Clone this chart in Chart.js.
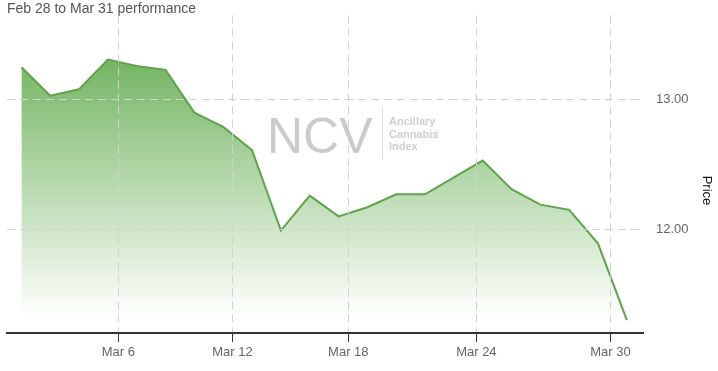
<!DOCTYPE html>
<html>
<head>
<meta charset="utf-8">
<script src="https://cdn.jsdelivr.net/npm/chart.js@4/dist/chart.umd.min.js"></script>
<style>
  html, body { margin: 0; padding: 0; background: #fff; }
  #wrap { width: 718px; height: 371px; }
</style>
</head>
<body>
<div id="wrap"><canvas id="graficaNCV"></canvas></div>
<script>
// daily closes, one per trading day, left to right
const precios = [13.25, 13.03, 13.08, 13.31, 13.26, 13.23, 12.90, 12.79, 12.61, 11.99, 12.26,
                 12.10, 12.17, 12.27, 12.27, 12.40, 12.53, 12.31, 12.19, 12.15, 11.89, 11.30];
// where the date ticks fall, in trading-day index units
const posicionesFechas = [3.36, 7.32, 11.34, 15.78, 20.43];
const etiquetasFechas = ['Mar 6', 'Mar 12', 'Mar 18', 'Mar 24', 'Mar 30'];
const ticksPrecio = [12, 13];

const titulo = 'Feb 28 to Mar 31 performance';

Chart.defaults.font.family = 'Arial, "Liberation Sans", sans-serif';
Chart.defaults.font.size = 13;
Chart.defaults.color = '#666';

// marca de agua NCV detras de la linea
const marcaAgua = {
    id: 'marcaAgua',
    beforeDatasetsDraw(chart){
        const ctx = chart.ctx;
        const a = chart.chartArea;
        const cx = (a.left + a.right) / 2;
        const cy = (a.top + a.bottom) / 2;
        ctx.save();
        ctx.fillStyle = '#cbcbcb';
        ctx.font = '50px Arial, "Liberation Sans", sans-serif';
        ctx.textBaseline = 'alphabetic';
        ctx.fillText('NCV', cx - 58, cy - 21);
        ctx.strokeStyle = '#dddddd';
        ctx.lineWidth = 1;
        ctx.beginPath();
        ctx.moveTo(cx + 57.5, cy - 67);
        ctx.lineTo(cx + 57.5, cy - 15);
        ctx.stroke();
        ctx.fillStyle = '#cfcfcf';
        ctx.font = 'bold 11px Arial, "Liberation Sans", sans-serif';
        ctx.fillText('Ancillary', cx + 64, cy - 49);
        ctx.fillText('Cannabis', cx + 64, cy - 36);
        ctx.fillText('Index', cx + 64, cy - 24);
        ctx.restore();
    }
};

function degradado(context){
    const area = context.chart.chartArea;
    if(!area){
        return 'rgba(108,178,88,0.8)';
    }
    const g = context.chart.ctx.createLinearGradient(0, area.top, 0, area.bottom);
    g.addColorStop(0, 'rgb(92,168,72)');
    g.addColorStop(0.95, 'rgba(255,255,255,1)');
    g.addColorStop(1, 'rgba(255,255,255,1)');
    return g;
}

new Chart(document.getElementById('graficaNCV'), {
    type: 'line',
    data: {
        datasets: [{
            label: 'Price',
            data: precios.map((p, i) => ({x: i, y: p})),
            borderColor: '#5fa34b',
            borderWidth: 2,
            backgroundColor: degradado,
            fill: 'start',
            pointRadius: 0,
            tension: 0
        }]
    },
    options: {
        responsive: true,
        maintainAspectRatio: false,
        animation: false,
        layout: { padding: { left: 7, right: 0, top: 0, bottom: 0 } },
        plugins: {
            legend: { display: false },
            tooltip: { enabled: false },
            title: {
                display: true,
                text: titulo,
                align: 'start',
                color: '#555',
                font: { size: 14, weight: 'normal', lineHeight: 1.1 },
                padding: { top: 1, bottom: -1 }
            }
        },
        scales: {
            x: {
                type: 'linear',
                min: -0.5,
                max: 21.56,
                afterFit(scale){ scale.height = 38; },
                afterBuildTicks(scale){
                    scale.ticks = posicionesFechas.map(v => ({value: v}));
                },
                ticks: {
                    autoSkip: false,
                    maxRotation: 0,
                    padding: 3,
                    color: '#666',
                    callback: (v, i) => etiquetasFechas[i]
                },
                grid: {
                    z: 1,
                    color: '#d2d2d2',
                    tickColor: '#333',
                    tickLength: 9,
                    tickWidth: 1
                },
                border: { display: true, z: 1, color: '#333', width: 2, dash: [8, 5] }
            },
            y: {
                position: 'right',
                min: 11.2,
                max: 13.65,
                afterFit(scale){
                    scale.width = 75;
                    scale.paddingTop = 0;
                    scale.paddingBottom = 0;
                },
                afterBuildTicks(scale){
                    scale.ticks = ticksPrecio.map(v => ({value: v}));
                },
                ticks: {
                    padding: 13,
                    color: '#666',
                    callback: v => v.toFixed(2)
                },
                grid: { z: 1, color: '#d2d2d2', drawTicks: false },
                border: { display: false, dash: [8, 5] },
                title: {
                    display: true,
                    // leading spaces push the rotated word a little lower, as in the original
                    text: '         Price',
                    color: '#111',
                    font: { size: 13 },
                    padding: { top: 4, bottom: 0 }
                }
            }
        }
    },
    plugins: [marcaAgua]
});
</script>
</body>
</html>
